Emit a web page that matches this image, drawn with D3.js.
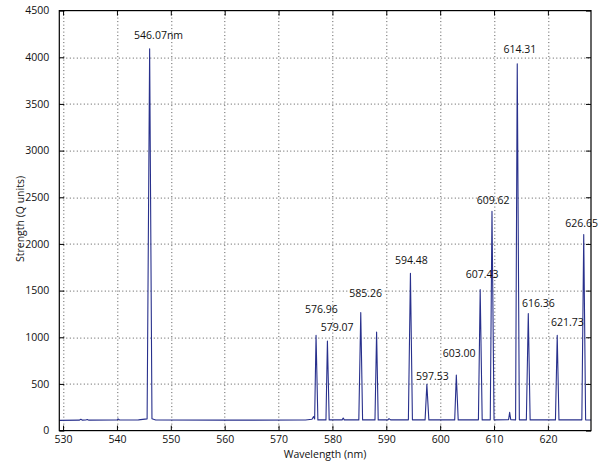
<!DOCTYPE html>
<html>
<head>
<meta charset="utf-8">
<script src="https://cdn.jsdelivr.net/npm/d3@7"></script>
<style>
  body { margin: 0; background: #fff; }
  text { font-family: "Open Sans", sans-serif; font-size: 10.5px; fill: #111; }
  .grid line { stroke: #555; stroke-width: 1; stroke-dasharray: 1,2.5; }
</style>
</head>
<body>
<svg id="chart"></svg>
<script>
// spectrum: [wavelength nm, strength]
var spectrum = [
  [529.3,110],[533.0,112],[533.3,121],[533.6,112],[534.2,113],[534.5,119],[534.8,112],
  [540.0,113],[540.2,125],[540.5,113],[544.0,115],[545.6,126],[546.07,4090],[546.5,128],
  [547.2,113],[560.0,112],[575.0,113],[576.2,122],[576.5,150],[576.7,125],[576.96,1020],
  [577.3,115],[578.8,115],[579.07,960],[579.4,115],[581.8,115],[582.0,135],[582.2,115],
  [584.9,115],[585.26,1265],[585.6,115],[587.9,115],[588.2,1055],[588.5,115],[590.3,115],
  [590.5,128],[590.8,115],[594.1,115],[594.48,1685],[594.85,115],[597.2,115],[597.53,495],
  [597.9,115],[602.7,115],[603.0,595],[603.35,115],[607.1,115],[607.43,1510],[607.8,115],
  [609.3,115],[609.62,2350],[610.0,115],[612.7,118],[612.9,195],[613.1,118],[614.0,115],
  [614.31,3930],[614.7,115],[616.0,115],[616.36,1255],[616.7,115],[621.4,115],[621.73,1020],
  [622.05,115],[626.3,115],[626.65,2100],[627.0,115],[628.0,113]
];

// peak labels: text, left edge (nm), baseline (strength)
var labelText = ['546.07nm','576.96','579.07','585.26','594.48','597.53','603.00',
                 '607.43','609.62','614.31','616.36','621.73','626.65'];
var labelX = [543.19,574.91,577.83,583.14,591.63,595.53,600.50,
              604.77,606.81,611.75,615.17,620.56,623.22];
var labelY = [4196,1257,1067,1435,1785,542,792,1638,2428,4049,1328,1124,2185];

var xTicks = [530,540,550,560,570,580,590,600,610,620];
var yTicks = [0,500,1000,1500,2000,2500,3000,3500,4000,4500];

var width = 602, height = 462;
var margin = {top:10.6, right:11, bottom:31.4, left:59.3};
var innerW = width - margin.left - margin.right;
var innerH = height - margin.top - margin.bottom;

var svg = d3.select('#chart').attr('width',width).attr('height',height);
var g = svg.append('g').attr('transform','translate('+margin.left+','+margin.top+')');

var x = d3.scaleLinear().domain([529.3,628]).range([0,innerW]);
var y = d3.scaleLinear().domain([0,4500]).range([innerH,0]);

// dotted grid
g.append('g').attr('class','grid')
  .selectAll('line').data(xTicks)
  .enter().append('line')
    .attr('x1',function(d){return Math.round(x(d))+0.5;})
    .attr('x2',function(d){return Math.round(x(d))+0.5;})
    .attr('y1',0).attr('y2',innerH);
g.append('g').attr('class','grid')
  .selectAll('line').data(yTicks.filter(function(d){return d>0 && d<4500;}))
  .enter().append('line')
    .attr('y1',function(d){return Math.round(y(d))+0.5;})
    .attr('y2',function(d){return Math.round(y(d))+0.5;})
    .attr('x1',0).attr('x2',innerW);

// spectrum line
var line = d3.line()
  .x(function(d){return x(d[0]);})
  .y(function(d){return y(d[1]);});
g.append('path')
  .datum(spectrum)
  .attr('d',line)
  .attr('fill','none')
  .attr('stroke','#28308c')
  .attr('stroke-width',1.1)
  .attr('stroke-linejoin','round');

// axes with inward ticks on all four sides
function styleAxis(sel){
  sel.select('.domain').remove();
  sel.selectAll('.tick line').attr('stroke','#000');
  sel.selectAll('.tick text').style('font-family','"Open Sans", sans-serif').style('font-size','10.5px').attr('fill','#111');
}
g.append('g').attr('transform','translate(0,'+innerH+')')
  .call(d3.axisBottom(x).tickValues(xTicks).tickFormat(d3.format('d')).tickSizeInner(-5).tickPadding(5))
  .call(styleAxis);
g.append('g')
  .call(d3.axisTop(x).tickValues(xTicks).tickSizeInner(-5).tickFormat(''))
  .call(styleAxis);
g.append('g')
  .call(d3.axisLeft(y).tickValues(yTicks).tickFormat(d3.format('d')).tickSizeInner(-5).tickPadding(10))
  .call(styleAxis);
g.append('g').attr('transform','translate('+innerW+',0)')
  .call(d3.axisRight(y).tickValues(yTicks).tickSizeInner(-5).tickFormat(''))
  .call(styleAxis);

// frame
g.append('rect')
  .attr('x',0).attr('y',0).attr('width',innerW).attr('height',innerH)
  .attr('fill','none').attr('stroke','#000').attr('stroke-width',1.2);

// peak labels
g.selectAll('.peakLabel')
  .data(labelText)
  .enter().append('text')
    .attr('class','peakLabel')
    .attr('x',function(d,i){return x(labelX[i]);})
    .attr('y',function(d,i){return y(labelY[i]);})
    .text(function(d){return d;});

// axis titles
svg.append('text')
  .attr('x',325).attr('y',458)
  .attr('text-anchor','middle')
  .text('Wavelength (nm)');
svg.append('text')
  .attr('transform','translate(24,219) rotate(-90)')
  .attr('text-anchor','middle')
  .text('Strength (Q units)');
</script>
</body>
</html>
